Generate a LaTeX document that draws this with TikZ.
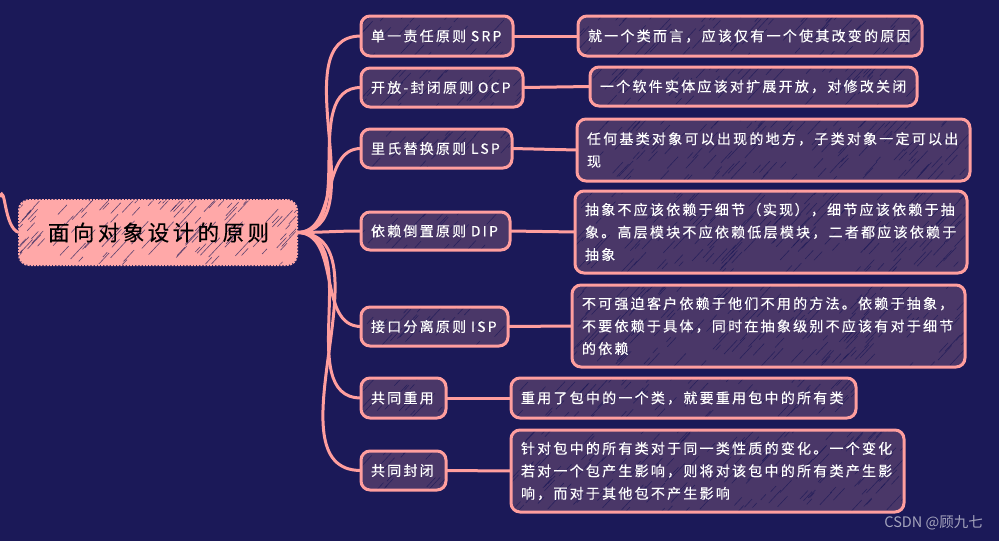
\documentclass[tikz,border=0pt]{standalone}
\usepackage{fontspec}
\setmainfont{Noto Sans CJK SC}[LetterSpace=16,FakeBold=.25]
\newfontfamily\markfont{Noto Sans CJK SC}
\usetikzlibrary{calc}
\definecolor{bgblue}{HTML}{1B1958}
\definecolor{boxfill}{HTML}{4A3768}
\definecolor{linepink}{HTML}{FF9E9E}
\definecolor{rootpink}{HTML}{FFA8A8}
\newcommand{\hatchstrokes}[3]{%
\pgfmathtruncatemacro\hn{#1/#3*#2}
\foreach \i in {1,...,\hn}{
\pgfmathsetmacro\hx{(rnd-.5)*(#1+10)}
\pgfmathsetmacro\hy{(rnd-.5)*(#2+10)}
\pgfmathsetmacro\hl{6+rnd*16}
\draw[bgblue,line width=.6pt,opacity=.7,solid] ($(path picture bounding box.center)+(\hx,\hy)$)--++(.7*\hl,-.75*\hl);
}}
\tikzset{
branchbox/.style 2 args={draw=linepink,line width=3pt,rounded corners=9pt,outer sep=0pt,fill=boxfill,text=white,minimum width=#1,minimum height=#2,text width=#1-20pt,inner xsep=10pt,inner ysep=0pt,align=left,font=\fontsize{14}{22.5}\selectfont,path picture={\hatchstrokes{#1}{#2}{170}}},
rootbox/.style 2 args={draw=rootpink,line width=2pt,dash pattern=on 2pt off 1.2pt,rounded corners=10pt,outer sep=0pt,fill=rootpink,text=black,minimum width=#1,minimum height=#2,text width=#1-58pt,inner xsep=29pt,inner ysep=0pt,align=left,font=\fontsize{21.5}{26}\selectfont,path picture={\hatchstrokes{#1}{#2}{130}}},
link/.style={linepink,line width=3pt},
}
\begin{document}
\begin{tikzpicture}[x=1pt,y=-1pt]
\pgfmathsetseed{11}
\useasboundingbox[fill=bgblue] (0,0) rectangle (999,541);
\coordinate (stub) at (0,197);
\node[rootbox={278}{65}] (root) at (158,232.5) {面向对象设计的原则};
\node[branchbox={152}{40}] (srp) at (437,36) {单一责任原则 SRP};
\node[branchbox={162}{39}] (ocp) at (442,87.5) {开放-封闭原则 OCP};
\node[branchbox={151}{39}] (lsp) at (436.5,148.5) {里氏替换原则 LSP};
\node[branchbox={149}{38}] (dip) at (435.5,231) {依赖倒置原则 DIP};
\node[branchbox={147}{39}] (isp) at (434.5,326.5) {接口分离原则 ISP};
\node[branchbox={85}{40}] (reuse) at (403.5,398) {共同重用};
\node[branchbox={85}{39}] (closure) at (403.5,470.5) {共同封闭};
\node[branchbox={344}{40}] (srptext) at (750,36) {就一个类而言，应该仅有一个使其改变的原因};
\node[branchbox={327}{39}] (ocptext) at (753.5,86.5) {一个软件实体应该对扩展开放，对修改关闭};
\node[branchbox={393}{62}] (lsptext) at (773.5,150) {任何基类对象可以出现的地方，子类对象一定可以出\\现};
\node[branchbox={392}{82}] (diptext) at (771,232) {抽象不应该依赖于细节（\kern1.5pt 实现\kern1.5pt ），细节应该依赖于抽\\象。高层模块不应依赖低层模块，二者都应该依赖于\\抽象};
\node[branchbox={393}{82}] (isptext) at (768.5,326) {不可强迫客户依赖于他们不用的方法。依赖于抽象，\\不要依赖于具体，同时在抽象级别不应该有对于细节\\的依赖};
\node[branchbox={345}{40}] (reusetext) at (683.5,398) {重用了包中的一个类，就要重用包中的所有类};
\node[branchbox={393}{82}] (closuretext) at (707.5,471) {针对包中的所有类对于同一类性质的变化。一个变化\\若对一个包产生影响，则将对该包中的所有类产生影\\响，而对于其他包不产生影响};
\node[font=\markfont\fontsize{14.5}{16}\selectfont,text=white,opacity=.6,anchor=east,inner sep=0pt] (mark) at (983,523) {CSDN @顾九七};
\draw[link] (stub) to[out=70,in=165] (root.west);
\draw[link] (root.east) to[out=0,in=180] (srp.west);
\draw[link] (root.east) to[out=0,in=180] (ocp.west);
\draw[link] (root.east) to[out=0,in=180] (lsp.west);
\draw[link] (root.east) to[out=0,in=180] (dip.west);
\draw[link] (root.east) to[out=0,in=180] (isp.west);
\draw[link] (root.east) to[out=0,in=180] (reuse.west);
\draw[link] (root.east) to[out=0,in=180] (closure.west);
\draw[link] (srp.east)--(srptext.west);
\draw[link] (ocp.east)--(ocptext.west);
\draw[link] (lsp.east)--(lsptext.west);
\draw[link] (dip.east)--(diptext.west);
\draw[link] (isp.east)--(isptext.west);
\draw[link] (reuse.east)--(reusetext.west);
\draw[link] (closure.east)--(closuretext.west);
\end{tikzpicture}
\end{document}
